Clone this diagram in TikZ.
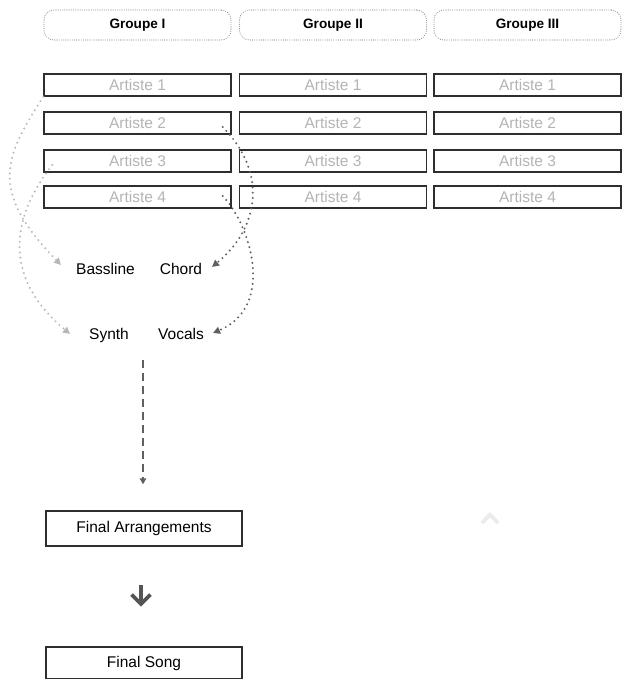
\documentclass[tikz,border=0pt]{standalone}
\usepackage{fontspec}
\setmainfont{Liberation Sans}
\usetikzlibrary{arrows.meta,calc}
\definecolor{boxline}{HTML}{2E2E2E}
\definecolor{artgray}{HTML}{B4B4B4}
\definecolor{lightcurve}{HTML}{B8B8B8}
\definecolor{darkcurve}{HTML}{606060}
\definecolor{grpline}{HTML}{8A8A8A}
\definecolor{icongray}{HTML}{555555}
\definecolor{ghost}{HTML}{EBEBEB}
\begin{document}
\begin{tikzpicture}[x=1pt,y=-1pt,
  artbox/.style={draw=boxline,line width=1.4pt,minimum width=187pt,minimum height=22pt,inner sep=0pt,text=artgray,font=\fontsize{15.5}{18}\selectfont},
  grpbox/.style={draw=grpline,line width=1.1pt,line cap=round,dash pattern=on 0pt off 2.2pt,rounded corners=10pt,minimum width=187pt,minimum height=30pt,inner sep=0pt,font=\bfseries\fontsize{13.6}{16}\selectfont},
  lbl/.style={font=\fontsize{15.5}{18}\selectfont,inner sep=1pt,anchor=base},
  finalbox/.style={draw=boxline,line width=1.4pt,minimum width=196pt,inner sep=0pt,font=\fontsize{15.5}{18}\selectfont},
  lightdots/.style={draw=lightcurve,line width=2.2pt,line cap=round,dash pattern=on 0pt off 5.3pt,-{Triangle[length=7pt,width=7pt,fill=lightcurve]}},
  darkdots/.style={draw=darkcurve,line width=2.2pt,line cap=round,dash pattern=on 0pt off 5.3pt,-{Triangle[length=7pt,width=7pt,fill=darkcurve]}},
  dasharrow/.style={draw=darkcurve,line width=2.2pt,dash pattern=on 8pt off 5pt,-{Triangle[length=6pt,width=6.5pt]}},
  iconline/.style={draw=icongray,line width=3.6pt},
  ghostline/.style={draw=ghost,line width=3.8pt}
]
\useasboundingbox (0,0) rectangle (622,679);

% group headers
\node[grpbox] (g1) at (137.5,25) {Groupe I};
\node[grpbox] (g2) at (333,25) {Groupe II};
\node[grpbox] (g3) at (527.5,25) {Groupe III};

% artist boxes
\foreach \c/\x in {1/137.5,2/333,3/527.5}{
  \foreach \r/\y in {1/85,2/123,3/161,4/197}{
    \node[artbox] (a\c\r) at (\x,\y) {Artiste \r};
  }
}

% labels
\node[lbl] (bass) at (105.5,274) {Bassline};
\node[lbl] (chord) at (181,274) {Chord};
\node[lbl] (synth) at (109,339) {Synth};
\node[lbl] (vocals) at (181,339) {Vocals};

% final boxes
\node[finalbox,minimum height=35pt] (farr) at (144,528.5) {Final Arrangements};
\node[finalbox,minimum height=32pt] (fsong) at (144,663) {Final Song};

% curve end points
\coordinate (s1) at (a11.south west);
\coordinate (s2) at ($(a13.west)+(9,4)$);
\coordinate (s3) at ($(a12.east)+(-9,4)$);
\coordinate (s4) at ($(a14.east)+(-9,-1)$);
\coordinate (tb) at (61,265);
\coordinate (ts) at (70,334);
\coordinate (tc) at (212,267);
\coordinate (tv) at (213,333);

\draw[lightdots] (s1) .. controls (4.5,157.5) and (-11.8,190) .. (tb);
\draw[lightdots] (s2) .. controls (14.3,213.4) and (-1.3,274.3) .. (ts);
\draw[darkdots] (s3) .. controls (268.8,173.8) and (258.2,228.9) .. (tc);
\draw[darkdots] (s4) .. controls (250.2,224.2) and (276.2,306.5) .. (tv);

% dashed arrow
\coordinate (dstart) at (143,360);
\draw[dasharrow] (dstart) -- ($(farr.north)+(-1,-26)$);

% down arrow icon
\draw[iconline] (141,585) -- (141,602);
\draw[iconline] (131.5,594.5) -- (141,604) -- (150.5,594.5);

% ghost chevron
\draw[ghostline] (482,523) -- (490,514.5) -- (498,523);
\end{tikzpicture}
\end{document}
